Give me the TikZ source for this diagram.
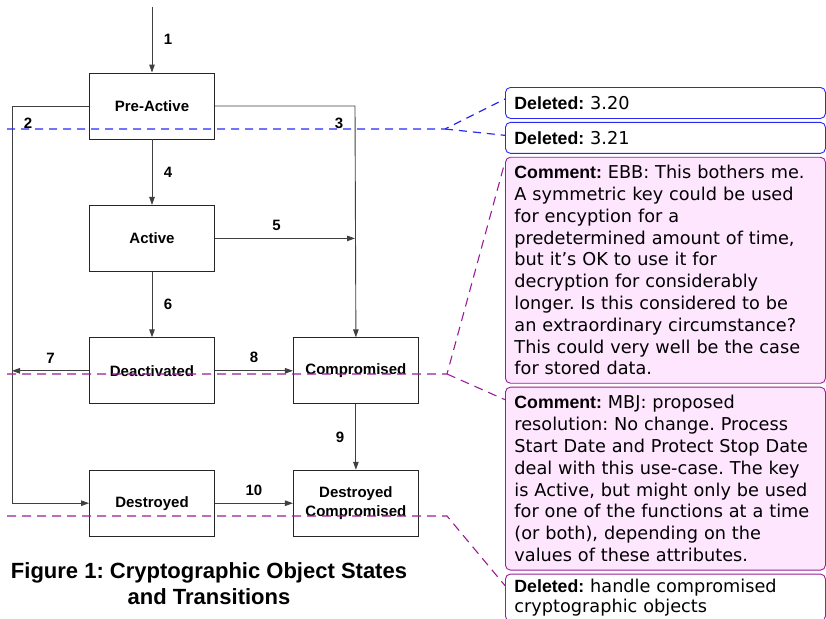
\documentclass[tikz,border=0pt]{standalone}
\usepackage{fontspec}
\setmainfont{Liberation Sans}
\newfontfamily\notefont{DejaVu Sans}
\usetikzlibrary{arrows.meta,positioning}
\definecolor{lineColor}{HTML}{404040}
\definecolor{deletedColor}{HTML}{2A2AF5}
\definecolor{commentColor}{HTML}{9A1E9A}
\definecolor{commentFill}{HTML}{FFE6FF}
\newcommand{\notehead}[1]{{\normalfont\bfseries #1}}
\frenchspacing

\begin{document}
\begin{tikzpicture}[x=1pt,y=-1pt,%
    >={Triangle[length=8pt,width=5.5pt]},align=center,
    every node/.style={font=\fontsize{15}{19}\selectfont\bfseries}]
    \tikzstyle{base}=[node distance=65.5pt and 78pt,fill=white,draw=black!85,line width=0.9pt]
    \tikzstyle{state}=[base,rectangle,minimum width=125pt,minimum height=66pt,inner sep=2pt]
    \tikzstyle{arr}=[->,draw=lineColor,line width=0.9pt]
    \tikzstyle{lbl}=[inner sep=3.3pt]
    \tikzstyle{note}=[rectangle,rounded corners=5pt,line width=0.9pt,align=left,
      text width=302pt,inner xsep=9pt,inner ysep=4pt,
      font=\notefont\fontsize{17.7}{21.8}\selectfont]
    \tikzstyle{deleted}=[note,draw=deletedColor,fill=white,minimum height=31pt]
    \tikzstyle{comment}=[note,draw=commentColor,fill=commentFill]
    \tikzstyle{deletedNote}=[note,draw=commentColor,fill=white,inner ysep=5pt,
      font=\notefont\fontsize{17.7}{20}\selectfont]
    \tikzstyle{markBlue}=[draw=deletedColor,line width=1.2pt,dash pattern=on 8pt off 6pt]
    \tikzstyle{markPurple}=[draw=commentColor,line width=1.1pt,dash pattern=on 9pt off 6pt]
    \useasboundingbox (0,0) rectangle (826,618);
    % All states
    \node (preactive) [state] at (152,106) {Pre-Active};
    \node (active) [state,below=of preactive]                {Active};
    \node (deactivated) [state,below=of active]              {Deactivated};
    \node (destroyed) [state,below=of deactivated]           {Destroyed};
    \node (compromised) [state,right=of deactivated]         {Compromised};
    \node (destroyedComp) [state,right=of destroyed]
          {Destroyed\\Compromised};
    \coordinate (entry) at (152,7);
    \coordinate (ltop) at (12,106);
    \coordinate (rtop) at (355,106);
    % Edges
    \draw [arr] (entry) -- node[lbl,right=8pt] {1} (preactive);
    \draw [arr] (preactive.west) -- (ltop) node[lbl,below right=8pt and 8pt] {2}
          |- (destroyed.west);
    \draw [arr] (preactive.east) -- (rtop) node[lbl,below left=8pt and 8pt] {3}
          -- (compromised.north);
    \draw [arr] (preactive) -- node[lbl,right=8pt] {4} (active);
    \draw [arr] (active.east) -- node[lbl,above=4pt,pos=0.44] {5} (active.east -| rtop);
    \draw [arr] (active) -- node[lbl,right=8pt] {6} (deactivated);
    \draw [arr] (deactivated.west) -- node[lbl,above=4pt] {7} (deactivated.west -| ltop);
    \draw [arr] (deactivated) -- node[lbl,above=4pt] {8} (compromised);
    \draw [arr] (compromised) -- node[lbl,left=8pt] {9} (destroyedComp);
    \draw [arr] (destroyed) -- node[lbl,above=4pt] {10} (destroyedComp);
    % Caption
    \node (caption) at (209,584) [font=\fontsize{22}{26}\selectfont\bfseries]
          {Figure 1: Cryptographic Object States\\and Transitions};
    % Markup balloons
    \node (del1) [deleted,anchor=north west] at (505,87) {\notehead{Deleted:} 3.20};
    \node (del2) [deleted,below=3pt of del1] {\notehead{Deleted:} 3.21};
    \node (com1) [comment,below=3pt of del2,minimum height=226pt]
          {\notehead{Comment:} EBB: This bothers me.\\
           A symmetric key could be used\\
           for encyption for a\\
           predetermined amount of time,\\
           but it’s OK to use it for\\
           decryption for considerably\\
           longer. Is this considered to be\\
           an extraordinary circumstance?\\
           This could very well be the case\\
           for stored data.};
    \node (com2) [comment,below=3pt of com1,minimum height=183pt]
          {\notehead{Comment:} MBJ: proposed\\
           resolution: No change. Process\\
           Start Date and Protect Stop Date\\
           deal with this use-case. The key\\
           is Active, but might only be used\\
           for one of the functions at a time\\
           (or both), depending on the\\
           values of these attributes.};
    \node (del3) [deletedNote,below=3pt of com2]
          {\notehead{Deleted:} handle compromised\\
           cryptographic objects};
    % Markup lines
    \coordinate (blueL) at (7,129);
    \coordinate (blueK) at (445,129);
    \coordinate (purpleL) at (7,374);
    \coordinate (purpleK) at (447,374);
    \coordinate (purple2L) at (7,516);
    \coordinate (purple2K) at (447,516);
    \draw [markBlue] (blueL) -- (blueK) -- ([yshift=4pt]del1.west);
    \draw [markBlue] (blueK) -- ([yshift=2.5pt]del2.west);
    \draw [markPurple] (purpleL) -- (purpleK) -- ([yshift=-5pt]com1.north west);
    \draw [markPurple] (purpleK) -- ([yshift=-13pt]com2.north west);
    \draw [markPurple] (purple2L) -- (purple2K) -- ([yshift=-12pt]del3.north west);
  \end{tikzpicture}
\end{document}
